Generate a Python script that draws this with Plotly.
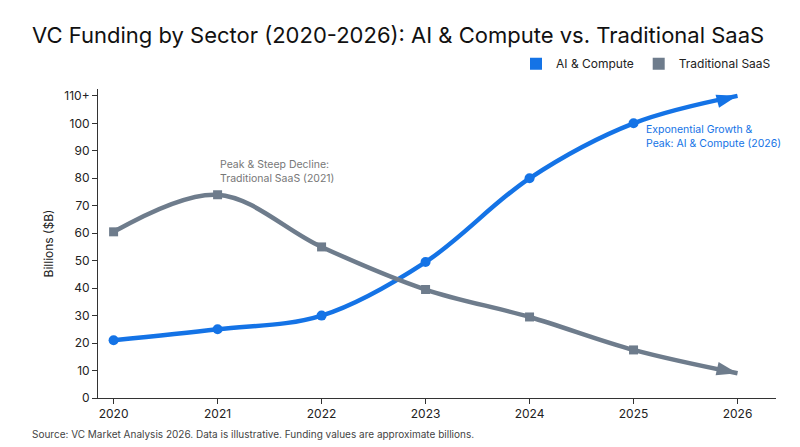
import plotly.graph_objects as go

years = [2020, 2021, 2022, 2023, 2024, 2025, 2026]
ai = [21, 25, 30, 49.5, 80, 100, 110]
saas = [60.5, 74, 55, 39.5, 29.5, 17.5, 9]
yticks = [0, 10, 20, 30, 40, 50, 60, 70, 80, 90, 100, 110]
ytext = ["0", "10", "20", "30", "40", "50", "60", "70", "80", "90", "100", "110+"]

blue = "#1473e6"
gray = "#6e7c8c"

fig = go.Figure()
for vals, col, sym, nm in [(ai, blue, "circle", "AI & Compute"), (saas, gray, "square", "Traditional SaaS")]:
    fig.add_trace(go.Scatter(x=years, y=vals, mode="lines", showlegend=False, hoverinfo="skip",
        line=dict(color=col, width=4.5, shape="spline", smoothing=1.0)))
    fig.add_trace(go.Scatter(x=years[:-1], y=vals[:-1], mode="markers", showlegend=False,
        marker=dict(color=col, size=10 if sym == "circle" else 9, symbol=sym)))
    fig.add_trace(go.Scatter(x=years[-2:], y=vals[-2:], mode="markers", showlegend=False, hoverinfo="skip",
        marker=dict(color=col, size=[0, 22], symbol=["circle", "arrow"], angleref="previous", opacity=1,
                    line=dict(width=0))))
    fig.add_trace(go.Scatter(x=[None], y=[None], mode="markers", name=nm,
        marker=dict(color=col, size=13, symbol="square")))

fig.add_annotation(x=2025.1, y=101, xref="x", yref="y", text="Exponential Growth &<br>Peak: AI & Compute (2026)",
    showarrow=False, align="left", xanchor="left", yanchor="top", font=dict(color=blue, size=10.5))
fig.add_annotation(x=2021, y=77, xref="x", yref="y", text="Peak & Steep Decline:<br>Traditional SaaS (2021)",
    showarrow=False, align="left", xanchor="left", yanchor="bottom", font=dict(color="#777", size=10.5))
fig.add_annotation(x=0, y=0, xref="paper", yref="paper", xshift=-68, yshift=-28,
    text="Source: VC Market Analysis 2026. Data is illustrative. Funding values are approximate billions.",
    showarrow=False, xanchor="left", yanchor="top", font=dict(color="#444", size=10))

fig.update_layout(
    width=800, height=447, paper_bgcolor="white", plot_bgcolor="white",
    font=dict(family="Inter, Roboto, sans-serif", color="#222"),
    title=dict(text="VC Funding by Sector (2020-2026): AI & Compute vs. Traditional SaaS",
               x=0.03, y=0.94, xanchor="left", yanchor="middle", font=dict(size=22, color="#111")),
    margin=dict(l=90, r=32, t=81, b=57),
    legend=dict(orientation="h", x=1, xanchor="right", y=1.035, yanchor="bottom",
                font=dict(size=12), itemsizing="constant"),
)
fig.update_xaxes(range=[2019.85, 2026.37], tickvals=years, showgrid=False, showline=True,
    linecolor="#333", ticks="outside", ticklen=5, tickcolor="#333", tickfont=dict(size=12))
fig.update_yaxes(range=[0, 112.5], tickvals=yticks, ticktext=ytext, showgrid=False, showline=True,
    linecolor="#333", ticks="outside", ticklen=5, tickcolor="#333", tickfont=dict(size=12),
    title=dict(text="Billions ($B)", font=dict(size=12), standoff=8), zeroline=False)

fig.write_html("out.html")
